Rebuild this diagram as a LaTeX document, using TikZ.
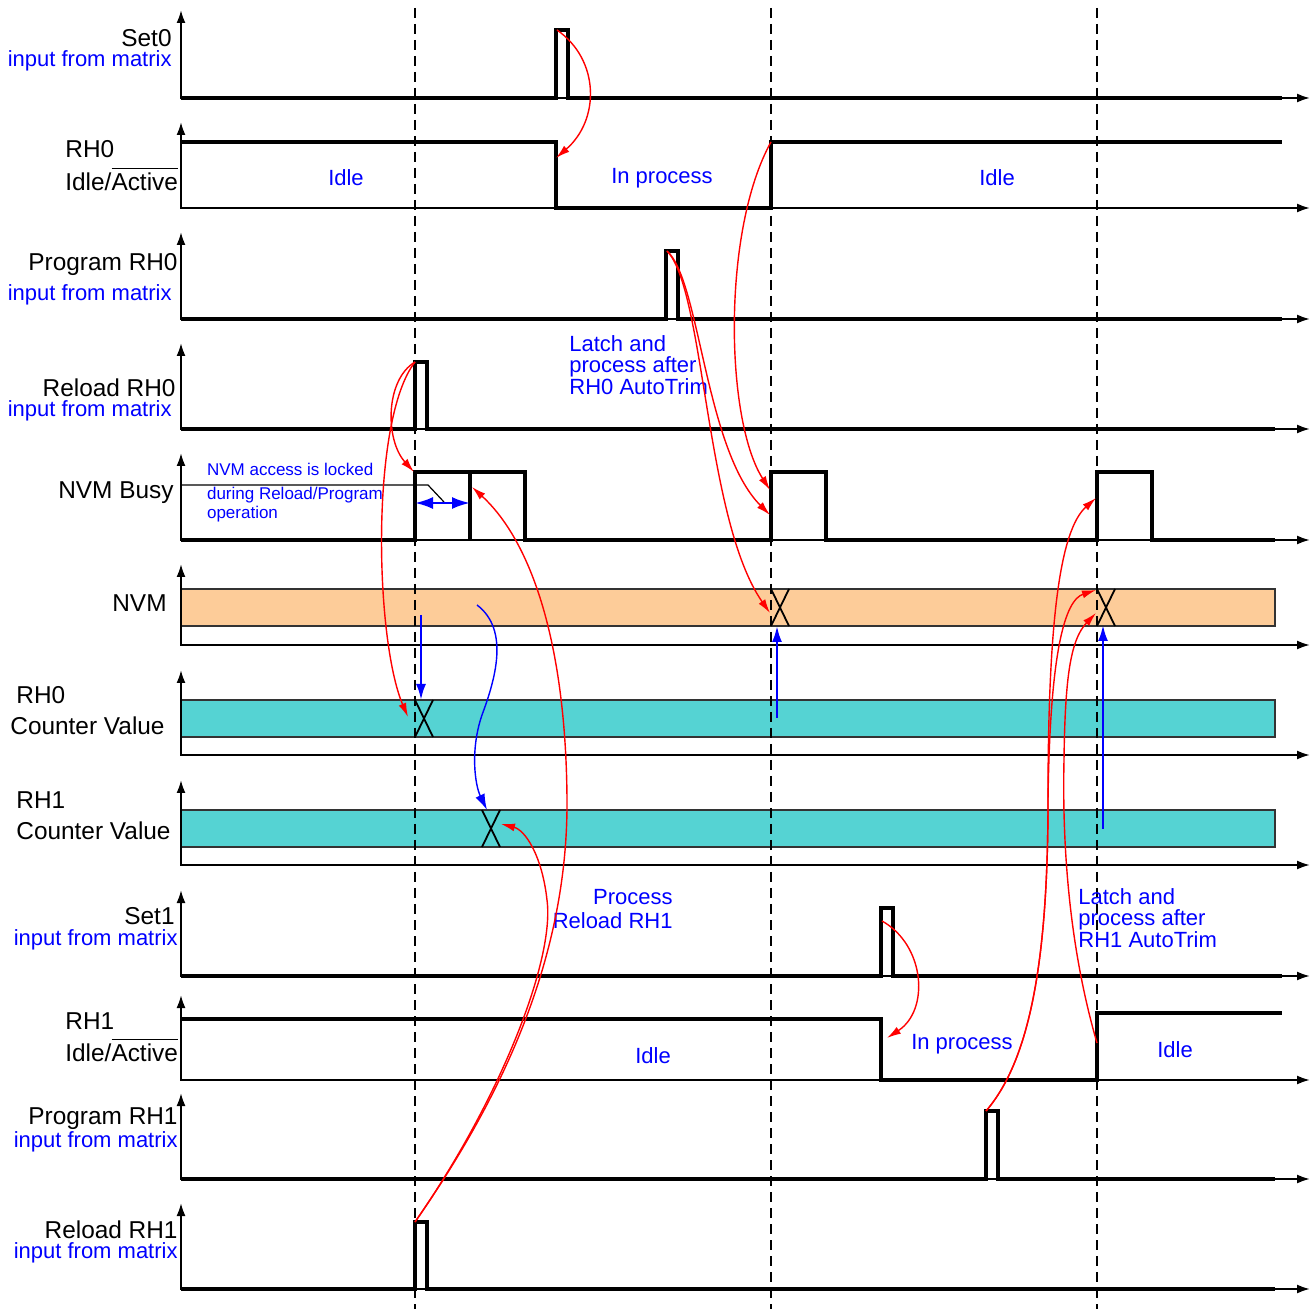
\documentclass[tikz,border=0pt]{standalone}
\usepackage{fontspec}
\setmainfont{Liberation Sans}
\usetikzlibrary{arrows.meta}
\definecolor{nvmorange}{RGB}{253,204,153}
\definecolor{cntteal}{RGB}{85,211,211}

\begin{document}
\begin{tikzpicture}[x=0.5pt, y=-0.5pt, >={Latex[length=6.5pt,width=4.5pt]},
    sig/.style={line width=2pt},
    axisline/.style={line width=1pt, <->},
    guide/.style={dash pattern=on 5pt off 3pt, line width=0.7pt},
    cause/.style={red, line width=0.7pt, -{Latex[length=7pt,width=4pt]}},
    xfer/.style={blue, line width=1.2pt, -{Latex[length=8pt,width=5pt]}},
    bus/.style={draw=black!80, line width=0.7pt},
    crossing/.style={line width=0.9pt},
    signame/.style={inner sep=0pt, font=\fontsize{12.2}{14}\selectfont},
    src/.style={inner sep=0pt, text=blue, font=\fontsize{11}{13}\selectfont},
    remark/.style={text=blue, font=\fontsize{8.5}{9.5}\selectfont, anchor=west, align=left}]
    \useasboundingbox (0,0) rectangle (1312,1309);

    % Data bars
    \fill[nvmorange] (181,589) rectangle (1275,626);
    \draw[bus] (181,589) -- (1275,589) -- (1275,626) -- (181,626);
    \fill[cntteal] (181,700) rectangle (1275,737);
    \draw[bus] (181,700) -- (1275,700) -- (1275,737) -- (181,737);
    \fill[cntteal] (181,810) rectangle (1275,847);
    \draw[bus] (181,810) -- (1275,810) -- (1275,847) -- (181,847);

    % Axes
    \draw[axisline] (181,10) -- (181,98) -- (1310,98);
    \draw[axisline] (181,122) -- (181,208) -- (1310,208);
    \draw[axisline] (181,232) -- (181,319) -- (1310,319);
    \draw[axisline] (181,343) -- (181,429) -- (1310,429);
    \draw[axisline] (181,453) -- (181,540) -- (1310,540);
    \draw[axisline] (181,564) -- (181,645) -- (1310,645);
    \draw[axisline] (181,670) -- (181,755) -- (1310,755);
    \draw[axisline] (181,780) -- (181,865) -- (1310,865);
    \draw[axisline] (181,890) -- (181,976) -- (1310,976);
    \draw[axisline] (181,995) -- (181,1080) -- (1310,1080);
    \draw[axisline] (181,1093) -- (181,1179) -- (1310,1179);
    \draw[axisline] (181,1203) -- (181,1289) -- (1310,1289);

    % Waveforms
    \draw[sig] (181,98) -- (556,98) -- (556,30) -- (568,30) -- (568,98) -- (1282,98);
    \draw[sig] (181,142) -- (556,142) -- (556,208) -- (771,208) -- (771,142) -- (1282,142);
    \draw[sig] (181,319) -- (666,319) -- (666,251) -- (678,251) -- (678,319) -- (1282,319);
    \draw[sig] (181,429) -- (415,429) -- (415,362) -- (427,362) -- (427,429) -- (1275,429);
    \draw[sig] (181,540) -- (415,540) -- (415,472) -- (525,472) -- (525,540) -- (771,540)
        -- (771,472) -- (826,472) -- (826,540) -- (1097,540) -- (1097,472) -- (1152,472)
        -- (1152,540) -- (1275,540);
    \draw[sig] (470,472) -- (470,540);
    \draw[sig] (181,976) -- (881,976) -- (881,908) -- (893,908) -- (893,976) -- (1282,976);
    \draw[sig] (181,1019) -- (881,1019) -- (881,1080) -- (1097,1080) -- (1097,1013) -- (1282,1013);
    \draw[sig] (181,1179) -- (986,1179) -- (986,1111) -- (998,1111) -- (998,1179) -- (1275,1179);
    \draw[sig] (181,1289) -- (415,1289) -- (415,1222) -- (427,1222) -- (427,1289) -- (1275,1289);

    % Value changes
    \draw[crossing] (771,589) -- (789,626) (789,589) -- (771,626);
    \draw[crossing] (1097,589) -- (1115,626) (1115,589) -- (1097,626);
    \draw[crossing] (415,700) -- (433,737) (433,700) -- (415,737);
    \draw[crossing] (482,810) -- (500,847) (500,810) -- (482,847);

    % Time markers
    \draw[guide] (415,8) -- (415,1309);
    \draw[guide] (771,8) -- (771,1309);
    \draw[guide] (1097,8) -- (1097,1309);

    % Signal names
    \node[signame, anchor=east] (set0) at (172,38) {Set0};
    \node[src, anchor=east] (set0src) at (172,61) {input from matrix};
    \node[signame, anchor=west] (rh0) at (65,149) {RH0};
    \node[signame, anchor=west] (rh0st) at (65,179) {Idle/$\overline{\mbox{Active}\rule{0pt}{9.6pt}}$};
    \node[signame, anchor=east] (prog0) at (178,265) {Program RH0};
    \node[src, anchor=east] (prog0src) at (172,295) {input from matrix};
    \node[signame, anchor=east] (rel0) at (176,388) {Reload RH0};
    \node[src, anchor=east] (rel0src) at (172,411) {input from matrix};
    \node[signame, anchor=east] (busy) at (174,493) {NVM Busy};
    \node[signame, anchor=east] (nvm) at (167,603) {NVM};
    \node[signame, anchor=west] (cnt0a) at (16,695) {RH0};
    \node[signame, anchor=west] (cnt0b) at (10,726) {Counter Value};
    \node[signame, anchor=west] (cnt1a) at (16,800) {RH1};
    \node[signame, anchor=west] (cnt1b) at (16,831) {Counter Value};
    \node[signame, anchor=east] (set1) at (175,916) {Set1};
    \node[src, anchor=east] (set1src) at (178,940) {input from matrix};
    \node[signame, anchor=west] (rh1) at (65,1021) {RH1};
    \node[signame, anchor=west] (rh1st) at (65,1050) {Idle/$\overline{\mbox{Active}\rule{0pt}{9.6pt}}$};
    \node[signame, anchor=east] (prog1) at (178,1119) {Program RH1};
    \node[src, anchor=east] (prog1src) at (178,1142) {input from matrix};
    \node[signame, anchor=east] (rel1) at (178,1230) {Reload RH1};
    \node[src, anchor=east] (rel1src) at (178,1253) {input from matrix};

    % States and notes
    \node[src] (idle0a) at (346,178) {Idle};
    \node[src] (proc0) at (662,178) {In process};
    \node[src] (idle0b) at (997,178) {Idle};
    \node[src] (idle1a) at (653,1056) {Idle};
    \node[src] (proc1) at (962,1044) {In process};
    \node[src] (idle1b) at (1175,1050) {Idle};
    \node[src, anchor=west, align=left, font=\fontsize{11}{10.7}\selectfont] (latch0) at (569,365)
        {Latch and\\process after\\RH0 AutoTrim};
    \node[src, anchor=east, align=right, font=\fontsize{11}{12}\selectfont] (reload1) at (673,909)
        {Process\\Reload RH1};
    \node[src, anchor=west, align=left, font=\fontsize{11}{10.7}\selectfont] (latch1) at (1078,918)
        {Latch and\\process after\\RH1 AutoTrim};
    \node[remark] (lock1) at (200,469) {NVM access is locked};
    \node[remark] (lock2) at (200,505) {during Reload/Program\\operation};
    \draw[line width=0.6pt] (181,485) -- (428,485) -- (444,502);

    % Coordinates for the connectors
    \coordinate (set0top) at (557,30);
    \coordinate (rh0fall) at (556,158);
    \coordinate (rh0rise) at (771,142);
    \coordinate (prog0top) at (667,251);
    \coordinate (busy0a) at (770,490);
    \coordinate (busy0b) at (770,515);
    \coordinate (nvmx0) at (770,613);
    \coordinate (rel0top) at (415,362);
    \coordinate (busylock) at (414,472);
    \coordinate (cnt0x) at (408,717);
    \coordinate (rel1top) at (415,1222);
    \coordinate (busymid) at (472,487);
    \coordinate (cnt1x) at (501,824);
    \coordinate (set1top) at (882,921);
    \coordinate (rh1fall) at (887,1038);
    \coordinate (prog1top) at (986,1111);
    \coordinate (busy1) at (1096,498);
    \coordinate (nvmx1a) at (1096,590);
    \coordinate (nvmx1b) at (1096,613);
    \coordinate (rh1rise) at (1097,1043);
    \coordinate (nvm0out) at (421,615);
    \coordinate (cnt0in) at (421,700);
    \coordinate (nvm1out) at (477,605);
    \coordinate (cnt1in) at (487,810);
    \coordinate (cnt0out) at (777,718);
    \coordinate (nvm0in) at (777,626);
    \coordinate (cnt1out) at (1103,829);
    \coordinate (nvm1in) at (1103,625);
    \coordinate (lockL) at (415,503);
    \coordinate (lockR) at (470,503);

    % Cause and effect
    \draw[cause] (set0top) .. controls (600,60) and (600,120) .. (rh0fall);
    \draw[cause] (rh0rise) .. controls (722,230) and (725,420) .. (busy0a);
    \draw[cause] (prog0top) .. controls (700,280) and (705,450) .. (busy0b);
    \draw[cause] (prog0top) .. controls (705,290) and (705,520) .. (nvmx0);
    \draw[cause] (rel0top) .. controls (385,380) and (385,440) .. (busylock);
    \draw[cause] (rel0top) .. controls (370,420) and (375,640) .. (cnt0x);
    \draw[cause] (rel1top) .. controls (500,1100) and (568,960) .. (567,800)
        .. controls (566,640) and (530,540) .. (busymid);
    \draw[cause] (rel1top) .. controls (500,1100) and (555,960) .. (547,900)
        .. controls (542,855) and (525,830) .. (cnt1x);
    \draw[cause] (set1top) .. controls (925,945) and (930,1010) .. (rh1fall);
    \draw[cause] (prog1top) .. controls (1030,1060) and (1048,960) .. (1048,800)
        .. controls (1048,620) and (1060,530) .. (busy1);
    \draw[cause] (prog1top) .. controls (1030,1060) and (1048,960) .. (1048,800)
        .. controls (1050,650) and (1065,600) .. (nvmx1a);
    \draw[cause] (rh1rise) .. controls (1070,950) and (1062,850) .. (1064,760)
        .. controls (1065,680) and (1070,640) .. (nvmx1b);

    % Data transfers
    \draw[xfer] (nvm0out) -- (cnt0in);
    \draw[xfer, line width=0.7pt] (nvm1out) .. controls (510,630) and (495,680) .. (482,715)
        .. controls (470,750) and (475,785) .. (cnt1in);
    \draw[xfer] (cnt0out) -- (nvm0in);
    \draw[xfer] (cnt1out) -- (nvm1in);
    \draw[xfer, {Latex[length=9pt,width=6pt]}-{Latex[length=9pt,width=6pt]}] (lockL) -- (lockR);

\end{tikzpicture}
\end{document}
